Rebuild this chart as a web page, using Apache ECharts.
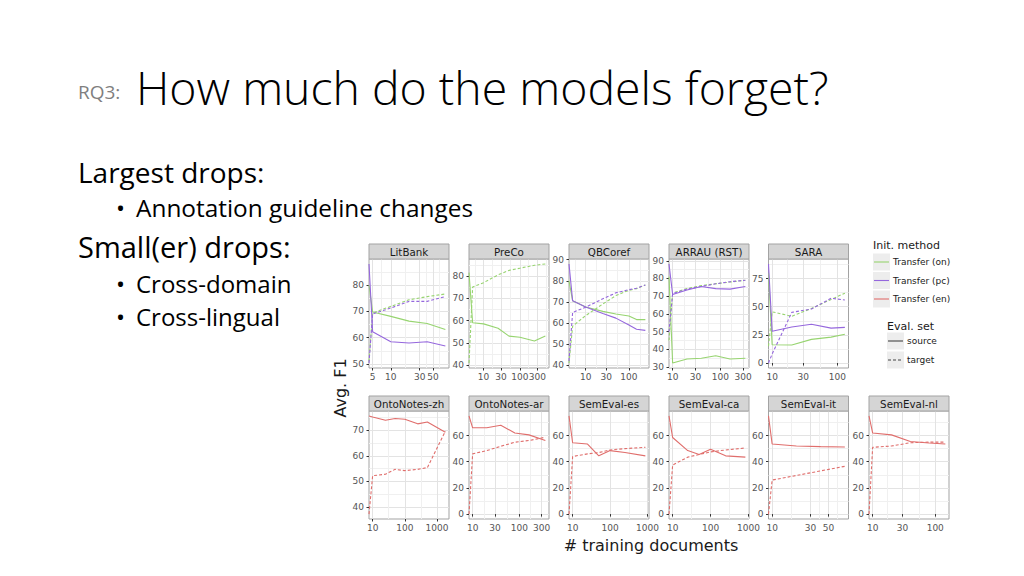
<!DOCTYPE html>
<html><head><meta charset="utf-8">
<script src="https://cdn.jsdelivr.net/npm/echarts@6/dist/echarts.min.js"></script>
<style>html,body{margin:0;padding:0;background:#fff}#c{width:1024px;height:576px}</style>
</head><body><div id="c"></div>
<script>
// ---------------- data ----------------
const litbankDocs = [0, 5, 10, 20, 40, 80];
const litbankOnSource = [80, 69.8, 68.1, 66.3, 65.4, 63.1];
const litbankOnTarget = [51, 69.4, 71.9, 74.4, 75.6, 76.6];
const litbankPcSource = [88, 62.3, 58.5, 58.0, 58.5, 56.9];
const litbankPcTarget = [50.4, 69.0, 71.3, 73.8, 73.8, 75.6];
const litbankXTicks = [5, 10, 30, 50];
const litbankYTicks = [50, 60, 70, 80];

const precoDocs = [0, 5, 10, 25, 50, 100, 250, 500];
const precoOnSource = [81.5, 59.0, 58.5, 56.5, 53.0, 52.5, 50.8, 53.0];
const precoOnTarget = [40.9, 75.0, 77.0, 80.5, 82.5, 83.5, 84.8, 85.4];
const precoXTicks = [10, 30, 100, 300];
const precoYTicks = [40, 50, 60, 70, 80];

const qbcorefDocs = [0, 5, 10, 25, 50, 100, 150, 240];
const qbcorefOnSource = [80, 70.5, 67.6, 65.5, 64.3, 63.3, 61.6, 61.6];
const qbcorefOnTarget = [41, 58.5, 63.5, 69.0, 73.0, 75.5, 76.3, 78.0];
const qbcorefPcSource = [88, 70.5, 67.6, 64.5, 62.3, 59.0, 57.0, 56.5];
const qbcorefPcTarget = [42, 65.0, 67.5, 71.5, 74.3, 75.8, 76.5, 78.0];
const qbcorefXTicks = [10, 30, 100];
const qbcorefYTicks = [40, 50, 60, 70, 80, 90];

const arrauDocs = [0, 10, 20, 40, 80, 160, 335];
const arrauOnSource = [81, 32.3, 34.6, 35.0, 36.4, 34.6, 35.0];
const arrauOnTarget = [45, 71.8, 74.3, 76.0, 77.0, 78.0, 79.0];
const arrauPcSource = [88.2, 71.0, 73.5, 75.5, 74.3, 74.0, 75.5];
const arrauPcTarget = [50, 71.5, 74.0, 75.5, 77.0, 78.2, 79.0];
const arrauXTicks = [10, 30, 100, 300];
const arrauYTicks = [30, 40, 50, 60, 70, 80, 90];

const saraDocs = [0, 10, 20, 40, 80, 130];
const saraOnSource = [80, 16.3, 16.0, 21.0, 23.0, 25.5];
const saraOnTarget = [15, 45.5, 41.5, 48.5, 56.5, 62.0];
const saraPcSource = [88, 28.2, 32.0, 34.5, 31.0, 31.7];
const saraPcTarget = [0, 8.0, 45.0, 48.0, 57.5, 56.0];
const saraXTicks = [10, 30, 100];
const saraYTicks = [0, 25, 50, 75];

const zhDocs = [0, 10, 25, 50, 100, 250, 500, 1810];
const zhEnSource = [75.6, 75.2, 73.9, 74.6, 74.3, 72.5, 73.2, 69.2];
const zhEnTarget = [37.2, 52.2, 52.8, 54.7, 54.2, 54.7, 55.4, 69.6];
const zhXTicks = [10, 100, 1000];
const zhYTicks = [40, 50, 60, 70];

const arDocs = [0, 10, 20, 40, 80, 160, 359];
const arEnSource = [75, 65.9, 65.9, 67.9, 62.0, 60.5, 56.2];
const arEnTarget = [0, 46.0, 48.5, 51.8, 54.9, 56.2, 58.7];
const arXTicks = [10, 30, 100, 300];

const esDocs = [0, 10, 25, 50, 100, 250, 875];
const esEnSource = [75, 54.5, 53.5, 44.5, 48.5, 47.0, 44.5];
const esEnTarget = [0, 44.0, 46.0, 47.0, 49.0, 50.0, 51.0];
const esXTicks = [10, 100, 1000];

const caDocs = [0, 10, 25, 50, 100, 250, 829];
const caEnSource = [75, 58.5, 48.5, 45.5, 49.5, 44.5, 43.5];
const caEnTarget = [0, 37.5, 43.5, 45.5, 47.5, 49.0, 50.5];
const caXTicks = [10, 100, 1000];

const itDocs = [0, 10, 20, 40, 80];
const itEnSource = [75, 53.5, 52.0, 51.5, 51.3];
const itEnTarget = [0, 26.0, 29.5, 33.0, 36.5];
const itXTicks = [10, 30, 50];

const nlDocs = [0, 10, 20, 40, 80, 145];
const nlEnSource = [75, 62.0, 60.5, 55.5, 54.3, 53.5];
const nlEnTarget = [0, 51.0, 52.0, 54.5, 55.0, 55.0];
const nlXTicks = [10, 30, 100];

const semevalYTicks = [0, 20, 40, 60];

const methodKeys = ['on', 'pc', 'en'];
const methodNames = { on: 'Transfer (on)', pc: 'Transfer (pc)', en: 'Transfer (en)' };
const evalNames = ['source', 'target'];

const panels = [
  { name: 'LitBank', docs: litbankDocs, xTicks: litbankXTicks, yTicks: litbankYTicks,
    lines: [['on','source',litbankOnSource],['on','target',litbankOnTarget],['pc','source',litbankPcSource],['pc','target',litbankPcTarget]] },
  { name: 'PreCo', docs: precoDocs, xTicks: precoXTicks, yTicks: precoYTicks,
    lines: [['on','source',precoOnSource],['on','target',precoOnTarget]] },
  { name: 'QBCoref', docs: qbcorefDocs, xTicks: qbcorefXTicks, yTicks: qbcorefYTicks,
    lines: [['on','source',qbcorefOnSource],['on','target',qbcorefOnTarget],['pc','source',qbcorefPcSource],['pc','target',qbcorefPcTarget]] },
  { name: 'ARRAU (RST)', docs: arrauDocs, xTicks: arrauXTicks, yTicks: arrauYTicks,
    lines: [['on','source',arrauOnSource],['on','target',arrauOnTarget],['pc','source',arrauPcSource],['pc','target',arrauPcTarget]] },
  { name: 'SARA', docs: saraDocs, xTicks: saraXTicks, yTicks: saraYTicks,
    lines: [['on','source',saraOnSource],['on','target',saraOnTarget],['pc','source',saraPcSource],['pc','target',saraPcTarget]] },
  { name: 'OntoNotes-zh', docs: zhDocs, xTicks: zhXTicks, yTicks: zhYTicks,
    lines: [['en','source',zhEnSource],['en','target',zhEnTarget]] },
  { name: 'OntoNotes-ar', docs: arDocs, xTicks: arXTicks, yTicks: semevalYTicks,
    lines: [['en','source',arEnSource],['en','target',arEnTarget]] },
  { name: 'SemEval-es', docs: esDocs, xTicks: esXTicks, yTicks: semevalYTicks,
    lines: [['en','source',esEnSource],['en','target',esEnTarget]] },
  { name: 'SemEval-ca', docs: caDocs, xTicks: caXTicks, yTicks: semevalYTicks,
    lines: [['en','source',caEnSource],['en','target',caEnTarget]] },
  { name: 'SemEval-it', docs: itDocs, xTicks: itXTicks, yTicks: semevalYTicks,
    lines: [['en','source',itEnSource],['en','target',itEnTarget]] },
  { name: 'SemEval-nl', docs: nlDocs, xTicks: nlXTicks, yTicks: semevalYTicks,
    lines: [['en','source',nlEnSource],['en','target',nlEnTarget]] }
];

// ---------------- styling / layout ----------------
const COLORS = { on: '#97d470', pc: '#9567dd', en: '#e06e6c' };
const DASH = [3, 2];
const colLeft = [369, 469, 569, 669, 768.5, 869];
const rowTop = [259, 411];
const rowHeight = [109, 108];
const PW = 80, STRIP = 15;
const AXFONT = 'DejaVu Sans';
const SLIDEFONT = 'Open Sans';

function minorBetween(major, lo, hi) {
  const out = [];
  if (major.length < 2) return out;
  const d0 = major[1] - major[0];
  const ext = [major[0] - d0].concat(major, [major[major.length - 1] + (major[major.length - 1] - major[major.length - 2])]);
  for (let i = 0; i < ext.length - 1; i++) {
    const m = (ext[i] + ext[i + 1]) / 2;
    if (m > lo && m < hi) out.push(m);
  }
  return out;
}

const grids = [], xAxes = [], yAxes = [], series = [], graphics = [];

panels.forEach((p, i) => {
  const row = i < 5 ? 0 : 1;
  const col = i < 5 ? i : i - 5;
  const left = colLeft[col], top = rowTop[row], h = rowHeight[row];
  grids.push({ left: left, top: top, width: PW, height: h, show: true,
    backgroundColor: '#ffffff', borderColor: '#a3a3a3', borderWidth: 1, containLabel: false });

  const lx = p.docs.filter(d => d > 0).map(Math.log10);
  const lo = Math.min(...lx), hi = Math.max(...lx);
  const ex = 0.05 * (hi - lo);
  const xmin = lo - ex, xmax = hi + ex;
  const allY = [].concat(...p.lines.map(l => l[2]));
  const ylo = Math.min(...allY), yhi = Math.max(...allY);
  const ey = 0.05 * (yhi - ylo);
  const ymin = ylo - ey, ymax = yhi + ey;

  const xMajor = p.xTicks.map(Math.log10);
  const xMinor = minorBetween(xMajor, xmin, xmax);
  const yMinor = minorBetween(p.yTicks, ymin, ymax);

  const labelStyle = { fontSize: 9, color: '#555555', fontFamily: AXFONT };
  xAxes.push({ type: 'value', gridIndex: i, min: xmin, max: xmax, position: 'bottom',
    axisLine: { show: false },
    axisTick: { show: true, length: 2.5, lineStyle: { color: '#333333', width: 1 }, customValues: xMajor },
    axisLabel: Object.assign({ customValues: xMajor, margin: 4.5,
      formatter: v => String(Math.round(Math.pow(10, v))) }, labelStyle),
    splitLine: { show: true, lineStyle: { color: '#e3e3e3', width: 1 } } });
  xAxes.push({ type: 'value', gridIndex: i, min: xmin, max: xmax, position: 'top',
    axisLine: { show: false }, axisTick: { show: false, customValues: xMinor },
    axisLabel: { show: false }, splitLine: { show: true, lineStyle: { color: '#f0f0f0', width: 1 } } });
  yAxes.push({ type: 'value', gridIndex: i, min: ymin, max: ymax, position: 'left',
    axisLine: { show: false },
    axisTick: { show: true, length: 2.5, lineStyle: { color: '#333333', width: 1 }, customValues: p.yTicks },
    axisLabel: Object.assign({ customValues: p.yTicks, margin: 5 }, labelStyle),
    splitLine: { show: true, lineStyle: { color: '#e3e3e3', width: 1 } } });
  yAxes.push({ type: 'value', gridIndex: i, min: ymin, max: ymax, position: 'right',
    axisLine: { show: false }, axisTick: { show: false, customValues: yMinor },
    axisLabel: { show: false }, splitLine: { show: true, lineStyle: { color: '#f0f0f0', width: 1 } } });

  p.lines.forEach(([m, ev, vals]) => {
    series.push({
      type: 'line', name: methodNames[m] + ' / ' + ev, xAxisIndex: 2 * i, yAxisIndex: 2 * i,
      data: p.docs.map((d, k) => [d > 0 ? Math.log10(d) : xmin, vals[k]]),
      symbol: 'none', showSymbol: false, clip: true, silent: true, animation: false,
      itemStyle: { color: COLORS[m] },
      lineStyle: { color: COLORS[m], width: 1.1, type: ev === 'target' ? DASH : 'solid' },
      z: 3
    });
  });

  // facet strip
  graphics.push({ type: 'rect', shape: { x: left, y: top - STRIP, width: PW, height: STRIP },
    style: { fill: '#d5d5d5', stroke: '#a3a3a3', lineWidth: 1 }, z: 10 });
  graphics.push({ type: 'text', x: left + PW / 2, y: top - STRIP / 2 + 0.5, z: 11,
    style: { text: p.name, fill: '#1a1a1a', font: '10.3px "' + AXFONT + '"', align: 'center', verticalAlign: 'middle' } });
});

function txt(text, x, y, font, fill, align) {
  return { type: 'text', x: x, y: y, z: 20,
    style: { text: text, font: font, fill: fill, align: align || 'left', verticalAlign: 'middle' } };
}

// legend: Init. method (colour) and Eval. set (line type)
graphics.push(txt('Init. method', 873, 245.5, '11px "' + AXFONT + '"', '#1a1a1a'));
methodKeys.forEach((m, k) => {
  const y0 = 253.5 + k * 18.5;
  graphics.push({ type: 'rect', z: 12, shape: { x: 873, y: y0, width: 17, height: 17 }, style: { fill: '#ededed' } });
  graphics.push({ type: 'line', z: 13, shape: { x1: 874, y1: y0 + 8.5, x2: 889, y2: y0 + 8.5 },
    style: { stroke: COLORS[m], lineWidth: 1.1 } });
  graphics.push(txt(methodNames[m], 893, y0 + 8.5, '9px "' + AXFONT + '"', '#1a1a1a'));
});
graphics.push(txt('Eval. set', 887, 326, '11px "' + AXFONT + '"', '#1a1a1a'));
evalNames.forEach((ev, k) => {
  const y0 = 332.5 + k * 19;
  graphics.push({ type: 'rect', z: 12, shape: { x: 887, y: y0, width: 17, height: 17 }, style: { fill: '#ededed' } });
  graphics.push({ type: 'line', z: 13, shape: { x1: 888, y1: y0 + 8.5, x2: 903, y2: y0 + 8.5 },
    style: { stroke: '#444444', lineWidth: 1.1, lineDash: ev === 'target' ? DASH : null } });
  graphics.push(txt(ev, 907, y0 + 8.5, '9px "' + AXFONT + '"', '#1a1a1a'));
});

// axis titles
graphics.push(Object.assign(txt('Avg. F1', 340, 388, '16px "' + AXFONT + '"', '#1a1a1a', 'center'),
  { rotation: Math.PI / 2 }));
graphics.push(txt('# training documents', 651, 545, '16px "' + AXFONT + '"', '#1a1a1a', 'center'));

// slide text
graphics.push(txt('RQ3:', 78, 92, '19px "' + SLIDEFONT + '"', '#7f7f7f'));
graphics.push(txt('How much do the models forget?', 136, 86.5, '300 46.4px "' + SLIDEFONT + '"', '#000000'));
graphics.push(txt('Largest drops:', 78, 172, '28px "' + SLIDEFONT + '"', '#000000'));
graphics.push(txt('•', 116, 207, '24px "' + SLIDEFONT + '"', '#000000'));
graphics.push(txt('Annotation guideline changes', 136, 207, '24.4px "' + SLIDEFONT + '"', '#000000'));
graphics.push(txt('Small(er) drops:', 78, 246, '29px "' + SLIDEFONT + '"', '#000000'));
graphics.push(txt('•', 116, 283, '24px "' + SLIDEFONT + '"', '#000000'));
graphics.push(txt('Cross-domain', 136, 283, '24px "' + SLIDEFONT + '"', '#000000'));
graphics.push(txt('•', 116, 316, '24px "' + SLIDEFONT + '"', '#000000'));
graphics.push(txt('Cross-lingual', 136, 316, '24px "' + SLIDEFONT + '"', '#000000'));

const chart = echarts.init(document.getElementById('c'), null, { renderer: 'svg' });
chart.setOption({
  backgroundColor: '#ffffff',
  animation: false,
  grid: grids,
  xAxis: xAxes,
  yAxis: yAxes,
  series: series,
  graphic: { elements: graphics }
});
</script></body></html>
